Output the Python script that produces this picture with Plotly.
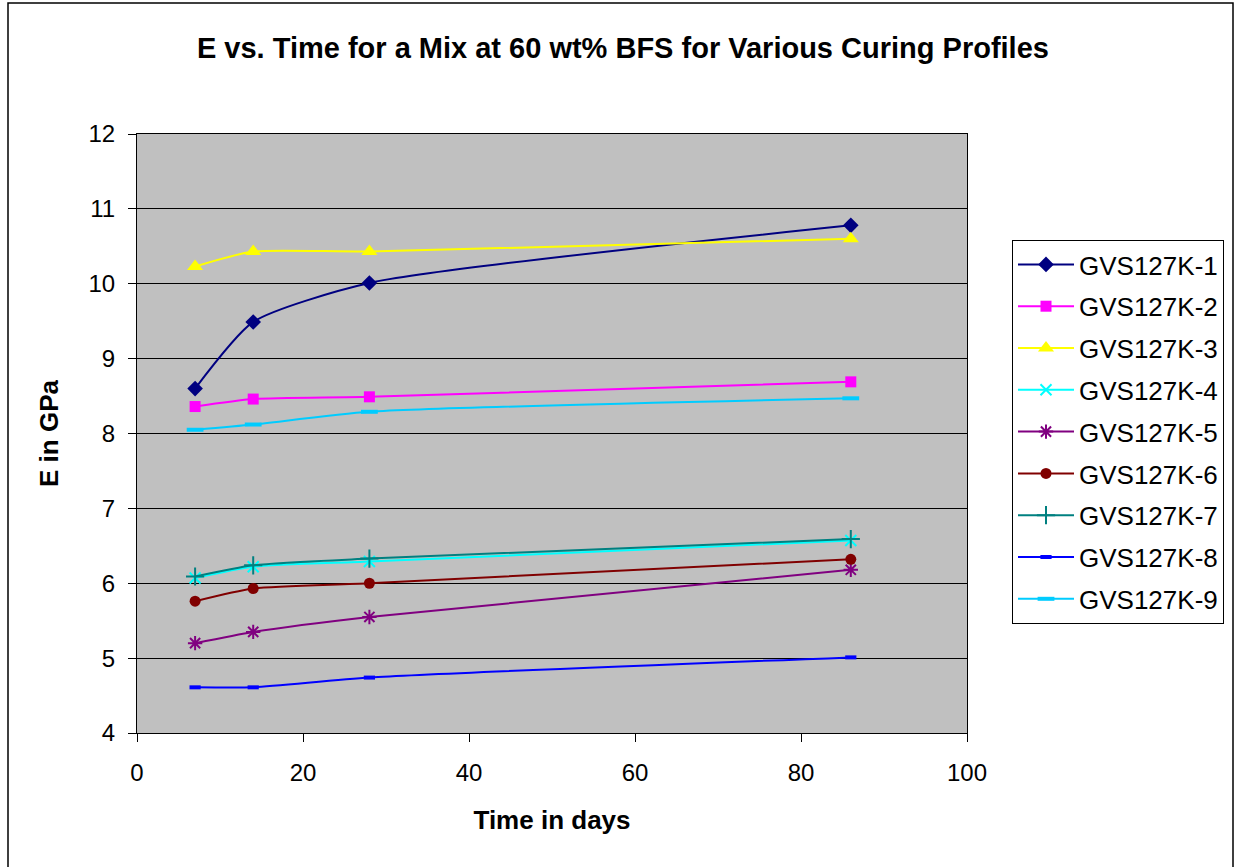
import plotly.graph_objects as go

# Curing time (days) at which each mix was tested
days = [7, 14, 28, 86]

# Elastic modulus E (GPa) per curing profile
e_k1 = [8.60, 9.49, 10.01, 10.78]
e_k2 = [8.36, 8.46, 8.49, 8.69]
e_k3 = [10.23, 10.43, 10.43, 10.60]
e_k4 = [6.07, 6.22, 6.29, 6.57]
e_k5 = [5.20, 5.35, 5.55, 6.18]
e_k6 = [5.76, 5.93, 6.00, 6.32]
e_k7 = [6.09, 6.24, 6.33, 6.59]
e_k8 = [4.61, 4.61, 4.74, 5.01]
e_k9 = [8.05, 8.12, 8.29, 8.47]

series_names = ["GVS127K-1", "GVS127K-2", "GVS127K-3", "GVS127K-4", "GVS127K-5",
                "GVS127K-6", "GVS127K-7", "GVS127K-8", "GVS127K-9"]
series_values = [e_k1, e_k2, e_k3, e_k4, e_k5, e_k6, e_k7, e_k8, e_k9]

styles = [
    dict(color="#000080", symbol="diamond", size=12, lw=0),
    dict(color="#FF00FF", symbol="square", size=11, lw=0),
    dict(color="#FFFF00", symbol="triangle-up", size=14, lw=0),
    dict(color="#00FFFF", symbol="x-thin-open", size=11, lw=2),
    dict(color="#800080", symbol="asterisk-open", size=12, lw=2),
    dict(color="#800000", symbol="circle", size=11, lw=0),
    dict(color="#008080", symbol="cross-thin-open", size=13, lw=2),
    dict(color="#0000FF", symbol="line-ew-open", size=8, lw=4),
    dict(color="#00CCFF", symbol="line-ew-open", size=12, lw=4),
]

fig = go.Figure()
for name, vals, st in zip(series_names, series_values, styles):
    fig.add_trace(go.Scatter(
        x=days, y=vals, name=name, legendgroup=name,
        mode="lines+markers",
        line=dict(color=st["color"], width=2, shape="spline", smoothing=0.6),
        marker=dict(symbol=st["symbol"], size=st["size"], color=st["color"],
                    line=dict(color=st["color"], width=st["lw"])),
    ))

W, H = 1236, 867
L, R, T, B = 137, 967, 134, 733
pw, ph = R - L, B - T

def px_x(v):
    return (v - L) / pw

def px_y(v):
    return (B - v) / ph

font_family = "Arial, Liberation Sans, sans-serif"
axis_font = dict(family=font_family, size=24, color="black")

fig.update_layout(
    width=W, height=H,
    margin=dict(l=L, r=W - R, t=T, b=H - B, pad=0),
    paper_bgcolor="white",
    plot_bgcolor="#C0C0C0",
    font=dict(family=font_family, color="black"),
    title=dict(text="<b>E vs. Time for a Mix at 60 wt% BFS for Various Curing Profiles</b>",
               x=0.504, xanchor="center", y=1 - 48 / H, yanchor="middle",
               font=dict(size=29, color="black")),
    xaxis=dict(range=[0, 100], dtick=20, showgrid=False, zeroline=False,
               ticks="outside", ticklen=8, tickcolor="black",
               showline=True, linecolor="black", linewidth=1, mirror=True,
               tickfont=axis_font, ticklabelstandoff=10,
               title=dict(text="<b>Time in days</b>", font=dict(size=26), standoff=26)),
    yaxis=dict(range=[4, 12], dtick=1, showgrid=True, gridcolor="black", gridwidth=1,
               zeroline=False, ticks="outside", ticklen=8, tickcolor="black",
               showline=True, linecolor="black", linewidth=1, mirror=True,
               tickfont=axis_font, ticklabelstandoff=8,
               title=dict(text="<b>E in GPa</b>", font=dict(size=26), standoff=22)),
    legend=dict(x=px_x(1012), y=px_y(240), xanchor="left", yanchor="top",
                bordercolor="black", borderwidth=1, bgcolor="white",
                font=dict(size=26, color="black"),
                traceorder="grouped", tracegroupgap=5, itemwidth=56),
    showlegend=True,
)

# Outer chart frame
fig.add_shape(type="rect", xref="paper", yref="paper",
              x0=px_x(8), x1=px_x(1233), y0=px_y(875), y1=px_y(3),
              line=dict(color="black", width=1.5), fillcolor="rgba(0,0,0,0)",
              layer="below")

fig.write_html("out.html")
